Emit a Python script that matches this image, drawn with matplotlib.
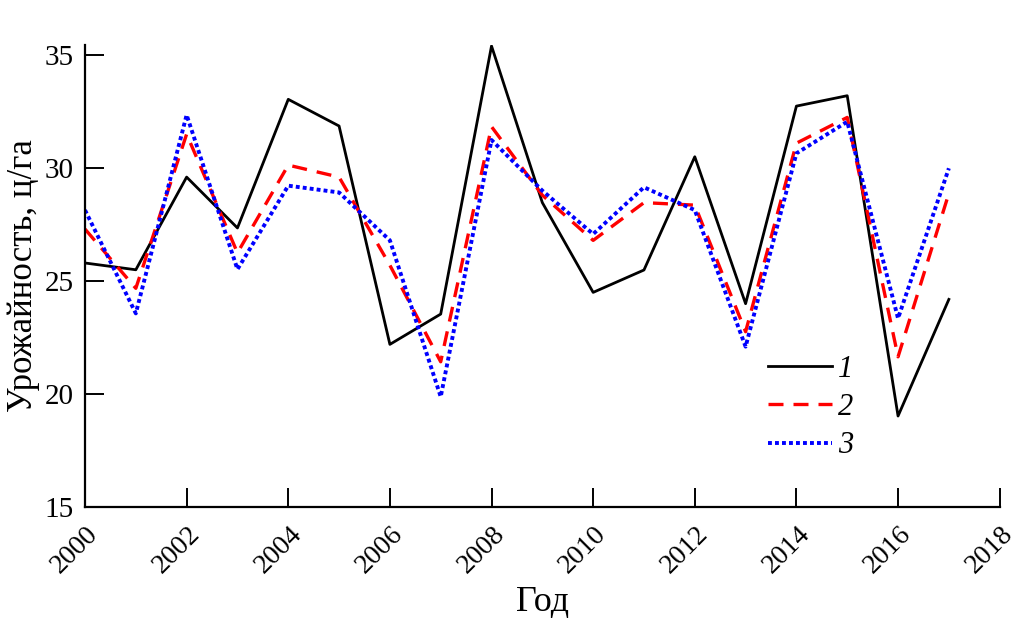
import matplotlib
matplotlib.use("Agg")
import matplotlib.pyplot as plt
from matplotlib.transforms import ScaledTranslation

years = list(range(2000, 2018))
series1 = [25.8, 25.5, 29.6, 27.35, 33.04, 31.86, 22.2, 23.54, 35.4, 28.47,
           24.5, 25.49, 30.5, 24.0, 32.74, 33.2, 19.03, 24.19]
series2 = [27.3, 24.68, 31.5, 26.25, 30.13, 29.6, 25.7, 21.43, 31.83, 28.8,
           26.8, 28.47, 28.36, 22.76, 31.1, 32.24, 21.65, 28.88]
series3 = [28.14, 23.57, 32.35, 25.52, 29.22, 28.92, 26.8, 19.88, 31.24, 29.0,
           27.08, 29.15, 28.14, 22.1, 30.65, 32.05, 23.35, 29.99]
labels = ["1", "2", "3"]
xticks = list(range(2000, 2019, 2))
yticks = [15, 20, 25, 30, 35]

plt.rcParams['font.family'] = ['Liberation Serif', 'DejaVu Serif']

fig = plt.figure(figsize=(10.18, 6.23), dpi=100)
ax = fig.add_axes([0.0835, 0.186, 0.8985, 0.742])

ax.plot(years, series1, color='black', lw=2.0, linestyle='-', label=labels[0])
ax.plot(years, series2, color='red', lw=2.4, linestyle=(0, (4.5, 3)), label=labels[1])
ax.plot(years, series3, color='blue', lw=2.8, linestyle=(0, (1, 0.8)), label=labels[2])

ax.set_xlim(2000, 2018)
ax.set_ylim(15, 35.45)
ax.set_xticks(xticks)
ax.set_yticks(yticks)
ax.set_xticklabels([str(t) for t in xticks], rotation=45, ha='center', va='center',
                   rotation_mode='anchor', fontsize=20)
ax.set_yticklabels([str(t) for t in yticks], fontsize=21)
ax.tick_params(direction='in', length=14, width=1.4)
ax.tick_params(axis='x', pad=31)
ax.tick_params(axis='y', pad=8)
shift = ScaledTranslation(-10 / 100, 0, fig.dpi_scale_trans)
for lab in ax.get_xticklabels():
    lab.set_transform(lab.get_transform() + shift)
for s in ['top', 'right']:
    ax.spines[s].set_visible(False)
for s in ['left', 'bottom']:
    ax.spines[s].set_linewidth(1.6)

ax.set_xlabel("Год", fontsize=26, labelpad=5)
ax.set_ylabel("Урожайность, ц/га", fontsize=25, labelpad=3)

leg = fig.legend(loc='upper left', bbox_to_anchor=(768 / 1018, 1 - 355 / 623),
                 frameon=False, fontsize=22, handlelength=2.1, handletextpad=0.18,
                 labelspacing=0.3, borderpad=0, borderaxespad=0)
for t in leg.get_texts():
    t.set_fontstyle('italic')

fig.savefig("out.png", dpi=100)
